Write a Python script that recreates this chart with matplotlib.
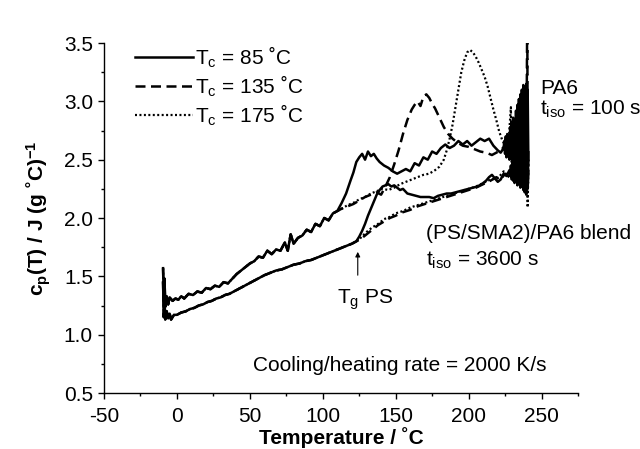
import matplotlib
matplotlib.use("Agg")
import matplotlib.pyplot as plt
from matplotlib.ticker import MultipleLocator, FormatStrFormatter

plt.rcParams.update({
    "font.family": ["Liberation Sans", "DejaVu Sans"],
    "mathtext.fontset": "custom",
    "mathtext.rm": "Liberation Sans",
    "mathtext.bf": "Liberation Sans:bold",
    "mathtext.default": "regular",
    "axes.unicode_minus": False,
})

# ---------------------------------------------------------------------------
# data (temperature in degC, cp in J/(g degC))
# ---------------------------------------------------------------------------
# PA6, t_iso = 100 s : common part below ~110 degC
pa6_base_T = [-9.5, -9, -8.5, -8, -7, -6, -5, -3, -1, 1, 3, 5, 8, 11, 14, 17, 20,
              23, 26, 29, 32, 35, 38, 41, 44, 47, 50, 53, 56, 59, 62, 65, 68, 71,
              74, 76, 78, 80, 83, 86, 89, 92, 95, 98, 101, 104, 107, 110]
pa6_base_cp = [1.57, 1.30, 1.48, 1.24, 1.33, 1.26, 1.32, 1.29, 1.31, 1.30, 1.33,
               1.31, 1.35, 1.34, 1.37, 1.36, 1.40, 1.39, 1.42, 1.41, 1.45, 1.44,
               1.48, 1.52, 1.55, 1.58, 1.61, 1.63, 1.67, 1.66, 1.72, 1.69, 1.73,
               1.72, 1.79, 1.72, 1.86, 1.78, 1.83, 1.85, 1.90, 1.88, 1.95, 1.93,
               2.00, 1.98, 2.04, 2.06]

pa6_85_T = [113, 116, 119, 121, 123, 125, 127, 129, 131, 133, 135, 137, 139, 142,
            145, 148, 151, 154, 157, 160, 163, 166, 169, 172, 175, 178, 181, 184,
            187, 190, 193, 196, 199, 202, 205, 208, 211, 214, 217, 220, 222, 224]
pa6_85_cp = [2.13, 2.21, 2.32, 2.39, 2.48, 2.52, 2.55, 2.50, 2.57, 2.53, 2.55, 2.51,
             2.48, 2.45, 2.43, 2.40, 2.38, 2.40, 2.42, 2.40, 2.47, 2.45, 2.52, 2.50,
             2.57, 2.55, 2.60, 2.63, 2.60, 2.62, 2.66, 2.63, 2.66, 2.62, 2.65, 2.68,
             2.66, 2.68, 2.62, 2.58, 2.56, 2.60]
pa6_85_noise_T = [224.5, 225, 225.5, 226, 226.5, 227, 227.5, 228, 228.5, 229, 229.5,
                  230, 230.5, 231, 231.5, 232, 232.5, 233, 233.5, 234, 234.5, 235,
                  235.5, 236, 236.5, 237, 237.5, 238, 238.5, 239, 239.5, 240, 240.5,
                  241]
pa6_85_noise_cp = [2.66, 2.55, 2.70, 2.52, 2.72, 2.58, 2.64, 2.50, 2.78, 2.52, 2.82,
                   2.48, 2.86, 2.50, 2.80, 2.44, 2.92, 2.47, 2.97, 2.42, 3.02, 2.45,
                   3.06, 2.40, 3.10, 2.42, 3.14, 2.38, 3.12, 2.35, 3.15, 2.30, 3.10,
                   2.45]

pa6_135_T = [113, 117, 121, 125, 129, 133, 137, 140, 143, 146, 149, 152, 155, 158,
             161, 163, 165, 167, 169, 171, 173, 175, 177, 180, 183, 186, 189, 192,
             196, 200, 204, 208, 212, 216, 219, 222, 225, 228, 231, 233, 235, 237,
             239, 239.8, 240.2, 240.6, 241]
pa6_135_cp = [2.08, 2.10, 2.12, 2.15, 2.18, 2.20, 2.22, 2.20, 2.27, 2.35, 2.46, 2.58,
              2.72, 2.84, 2.93, 2.97, 3.00, 2.96, 3.04, 3.06, 3.03, 2.98, 2.94, 2.86,
              2.78, 2.72, 2.68, 2.65, 2.62, 2.61, 2.59, 2.57, 2.56, 2.54, 2.56, 2.58,
              2.62, 2.55, 2.70, 2.50, 2.85, 2.45, 3.00, 2.90, 3.76, 2.30, 2.60]

pa6_175_T = [113, 117, 121, 125, 129, 133, 137, 141, 145, 149, 153, 157, 161, 165,
             169, 173, 177, 180, 183, 185, 187, 189, 191, 193, 195, 197, 199, 201,
             203, 205, 207, 209, 211, 213, 215, 217, 219, 221, 223, 225, 227, 229,
             229.5, 231, 233, 235, 237, 239, 240, 240.5, 241]
pa6_175_cp = [2.08, 2.11, 2.13, 2.16, 2.18, 2.21, 2.23, 2.25, 2.24, 2.26, 2.29, 2.31,
              2.33, 2.35, 2.37, 2.38, 2.41, 2.44, 2.50, 2.58, 2.68, 2.80, 2.95, 3.10,
              3.25, 3.35, 3.42, 3.44, 3.42, 3.38, 3.33, 3.27, 3.21, 3.13, 3.03, 2.93,
              2.84, 2.74, 2.67, 2.62, 2.58, 2.95, 2.33, 2.55, 2.80, 2.40, 2.85, 2.35,
              2.61, 2.09, 2.50]

# (PS/SMA2)/PA6 blend, t_iso = 3600 s : common part below ~123 degC
blend_base_T = [-9.5, -9, -8.5, -8, -7, -6, -5, -4, -2, 0, 3, 6, 9, 12, 15, 18, 21,
                24, 27, 30, 33, 36, 39, 42, 45, 48, 51, 54, 57, 60, 64, 68, 72, 76,
                80, 84, 88, 92, 96, 100, 104, 108, 112, 116, 120, 123]
blend_base_cp = [1.45, 1.15, 1.30, 1.13, 1.20, 1.14, 1.18, 1.13, 1.17, 1.17, 1.19,
                 1.20, 1.22, 1.23, 1.25, 1.26, 1.28, 1.29, 1.31, 1.32, 1.34, 1.35,
                 1.37, 1.39, 1.41, 1.43, 1.45, 1.47, 1.49, 1.51, 1.53, 1.55, 1.56,
                 1.58, 1.60, 1.61, 1.63, 1.64, 1.66, 1.68, 1.70, 1.72, 1.74, 1.76,
                 1.78, 1.80]

blend_85_T = [125, 127, 129, 131, 133, 135, 137, 139, 141, 143, 145, 147, 149, 151,
              153, 155, 158, 161, 164, 167, 170, 173, 176, 179, 182, 185, 188, 191,
              194, 197, 200, 203, 206, 209, 212, 214, 216, 218, 220, 222, 224, 226,
              228]
blend_85_cp = [1.84, 1.89, 1.95, 2.02, 2.08, 2.14, 2.20, 2.24, 2.27, 2.28, 2.29,
               2.27, 2.28, 2.26, 2.24, 2.25, 2.21, 2.20, 2.19, 2.18, 2.18, 2.18,
               2.17, 2.19, 2.20, 2.21, 2.21, 2.22, 2.23, 2.24, 2.25, 2.26, 2.27,
               2.29, 2.32, 2.35, 2.37, 2.34, 2.31, 2.33, 2.38, 2.36, 2.41]
blend_85_noise_T = [228.5, 229, 229.5, 230, 230.5, 231, 231.5, 232, 232.5, 233,
                    233.5, 234, 234.5, 235, 235.5, 236, 236.5, 237, 237.5, 238,
                    238.5, 239, 239.5, 240, 240.5, 241]
blend_85_noise_cp = [2.36, 2.45, 2.34, 2.48, 2.32, 2.50, 2.30, 2.52, 2.33, 2.55,
                     2.28, 2.58, 2.30, 2.60, 2.26, 2.62, 2.28, 2.56, 2.24, 2.60,
                     2.22, 2.58, 2.20, 2.55, 2.25, 2.40]

blend_135_T = [126, 130, 134, 138, 142, 146, 150, 155, 160, 165, 170, 175, 180, 185,
               190, 195, 200, 205, 210, 215, 219, 222, 225, 228, 231, 234, 237, 240]
blend_135_cp = [1.82, 1.86, 1.90, 1.94, 1.97, 2.00, 2.02, 2.05, 2.07, 2.10, 2.12,
                2.14, 2.16, 2.18, 2.20, 2.22, 2.24, 2.26, 2.29, 2.32, 2.35, 2.33,
                2.38, 2.35, 2.42, 2.33, 2.45, 2.30]

blend_175_T = [126, 130, 134, 138, 142, 146, 150, 155, 160, 165, 170, 175, 180, 185,
               190, 195, 200, 205, 210, 215, 220, 224, 228, 231, 234, 237, 240]
blend_175_cp = [1.83, 1.88, 1.92, 1.95, 1.99, 2.01, 2.04, 2.06, 2.09, 2.11, 2.13,
                2.15, 2.17, 2.19, 2.21, 2.23, 2.25, 2.27, 2.30, 2.33, 2.34, 2.40,
                2.36, 2.45, 2.30, 2.50, 2.25]

legend_labels = ["T$_c$ = 85 ˚C", "T$_c$ = 135 ˚C", "T$_c$ = 175 ˚C"]

# ---------------------------------------------------------------------------
FS = 15

fig = plt.figure(figsize=(6.4, 4.49), dpi=100)
ax = fig.add_axes([0.1625, 0.1247, 0.7406, 0.7795])

solid = dict(color="black", lw=1.8, linestyle="-")
dashed = dict(color="black", lw=1.8, linestyle=(0, (4.0, 2.2)))
dotted = dict(color="black", lw=1.6, linestyle=(0, (0.9, 1.1)))

# blend curves
ax.plot(blend_base_T + blend_175_T, blend_base_cp + blend_175_cp, **dotted)
ax.plot(blend_base_T + blend_135_T, blend_base_cp + blend_135_cp, **dashed)
ax.plot(blend_base_T + blend_85_T + blend_85_noise_T,
        blend_base_cp + blend_85_cp + blend_85_noise_cp, **solid)

# PA6 curves
l175, = ax.plot(pa6_base_T + pa6_175_T, pa6_base_cp + pa6_175_cp, **dotted)
l135, = ax.plot(pa6_base_T + pa6_135_T, pa6_base_cp + pa6_135_cp, **dashed)
l85, = ax.plot(pa6_base_T + pa6_85_T + pa6_85_noise_T,
               pa6_base_cp + pa6_85_cp + pa6_85_noise_cp, **solid)

ax.legend([l85, l135, l175], legend_labels, loc="upper left",
          bbox_to_anchor=(0.047, 1.02), frameon=False, fontsize=FS,
          handlelength=2.8, handletextpad=0.1, labelspacing=0.18,
          borderaxespad=0)

ax.set_xlim(-50, 275)
ax.set_ylim(0.5, 3.5)
ax.xaxis.set_major_locator(MultipleLocator(50))
ax.xaxis.set_minor_locator(MultipleLocator(25))
ax.yaxis.set_major_locator(MultipleLocator(0.5))
ax.yaxis.set_minor_locator(MultipleLocator(0.25))
ax.yaxis.set_major_formatter(FormatStrFormatter("%.1f"))
ax.spines["top"].set_visible(False)
ax.spines["right"].set_visible(False)
for side in ("left", "bottom"):
    ax.spines[side].set_linewidth(1.0)
ax.tick_params(which="major", direction="out", length=4, width=1.0,
               labelsize=FS)
ax.tick_params(axis="x", which="major", pad=6)
ax.tick_params(axis="y", which="major", pad=4)
ax.tick_params(which="minor", direction="out", length=2.5, width=1.0)

ax.set_xlabel("Temperature / ˚C", fontsize=FS, fontweight="bold", labelpad=1)
ax.set_ylabel(r"c$_\mathbf{p}$(T) / J (g ˚C)$^\mathbf{-1}$", fontsize=FS,
              fontweight="bold", labelpad=8)

# annotations
ax.text(249, 3.11, "PA6", fontsize=FS, va="center", ha="left", clip_on=False)
ax.text(249, 2.93, "t$_{iso}$ = 100 s", fontsize=FS, va="center", ha="left",
        clip_on=False)
ax.text(170.5, 1.87, "(PS/SMA2)/PA6 blend", fontsize=FS, va="center", ha="left",
        clip_on=False)
ax.text(170.5, 1.64, "t$_{iso}$ = 3600 s", fontsize=FS, va="center", ha="left")
ax.text(109.5, 1.30, "T$_g$ PS", fontsize=FS, va="center", ha="left")
ax.text(153, 0.74, "Cooling/heating rate = 2000 K/s", fontsize=FS,
        va="center", ha="center")
ax.annotate("", xy=(124, 1.71), xytext=(124, 1.51),
            arrowprops=dict(arrowstyle="-|>", color="black", lw=0.8,
                            mutation_scale=7, shrinkA=0, shrinkB=0))

fig.savefig("out.png", dpi=100)
